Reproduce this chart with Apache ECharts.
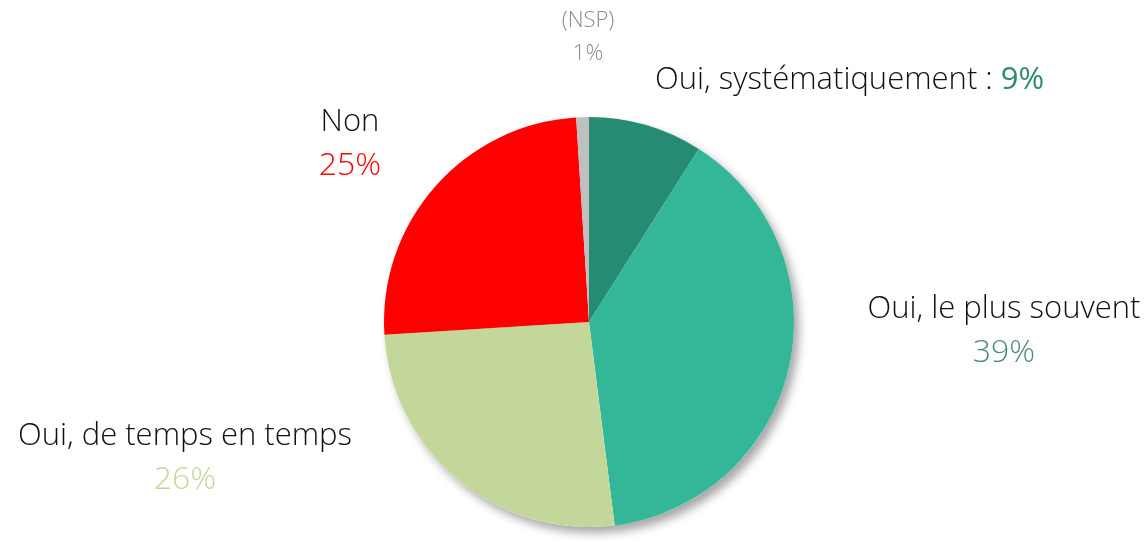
<!DOCTYPE html>
<html>
<head>
<meta charset="utf-8">
<script src="https://cdn.jsdelivr.net/npm/echarts@6/dist/echarts.min.js"></script>
<style>
  html, body { margin: 0; padding: 0; background: #fff; }
  #chart { width: 1148px; height: 541px; }
</style>
</head>
<body>
<div id="chart"></div>
<script>
// slices, clockwise from 12 o'clock
const categories = ['Oui, systématiquement', 'Oui, le plus souvent', 'Oui, de temps en temps', 'Non', '(NSP)']
const values = [9, 39, 26, 25, 1]

const sliceColors = ['#268b73', '#33b798', '#c4d79b', '#ff0000', '#bfbfbf']
const pctColors = ['#2e8b6e', '#4e8c78', '#c4d79b', '#ff0000', '#8c8c8c']

// label anchor points (px)
const labelPos = [
  { x: 655, y: 80, align: 'left' },
  { x: 1004, y: 331, align: 'center' },
  { x: 185, y: 458, align: 'center' },
  { x: 350, y: 144, align: 'center' },
  { x: 588, y: 37, align: 'center' }
]

const FONT = '"Open Sans", sans-serif'
const total = values.reduce((a, b) => a + b, 0)

const chart = echarts.init(document.getElementById('chart'))

chart.setOption({
  animation: false,
  series: [
    // shadow disc behind the pie
    {
      type: 'pie',
      silent: true,
      center: [589, 322],
      radius: 205,
      label: { show: false },
      labelLine: { show: false },
      itemStyle: {
        color: '#ffffff',
        shadowColor: 'rgba(0,0,0,0.35)',
        shadowBlur: 10,
        shadowOffsetX: 5,
        shadowOffsetY: 6
      },
      data: [{ name: 'all', value: total }]
    },
    {
      type: 'pie',
      center: [589, 322],
      radius: 205,
      startAngle: 90,
      clockwise: true,
      labelLine: { show: false },
      data: categories.map((c, i) => ({
        name: c,
        value: values[i],
        itemStyle: { color: sliceColors[i] }
      })),
      label: {
        show: true,
        fontFamily: FONT,
        formatter: p => {
          const i = p.dataIndex
          if (i === 0) return '{name|' + p.name + ' : }{pct0|' + p.value + '%}'
          if (i === 4) return '{nsp|' + p.name + '}\n{nsp|' + p.value + '%}'
          return '{name|' + p.name + '}\n{pct' + i + '|' + p.value + '%}'
        },
        rich: {
          name: { fontFamily: FONT, fontWeight: 300, fontSize: 31, color: '#111', lineHeight: 43 },
          pct0: { fontFamily: FONT, fontWeight: 400, fontSize: 31, color: pctColors[0], lineHeight: 43 },
          pct1: { fontFamily: FONT, fontWeight: 300, fontSize: 32, color: pctColors[1], lineHeight: 43 },
          pct2: { fontFamily: FONT, fontWeight: 300, fontSize: 32, color: pctColors[2], lineHeight: 43 },
          pct3: { fontFamily: FONT, fontWeight: 300, fontSize: 32, color: pctColors[3], lineHeight: 43 },
          nsp: { fontFamily: FONT, fontWeight: 300, fontSize: 22, color: pctColors[4], lineHeight: 33 }
        }
      },
      labelLayout: p => {
        const lp = labelPos[p.dataIndex]
        return { x: lp.x, y: lp.y, align: lp.align, verticalAlign: 'middle', hideOverlap: false }
      }
    }
  ]
})
</script>
</body>
</html>
